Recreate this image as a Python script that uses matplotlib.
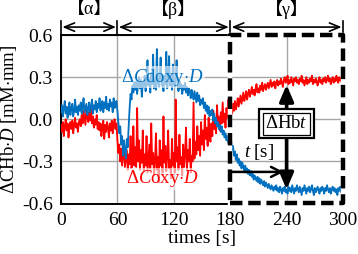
import matplotlib
matplotlib.use("Agg")
import matplotlib.pyplot as plt
import matplotlib.transforms as mtransforms
from matplotlib.patches import Rectangle

plt.rcParams['font.family'] = ['Liberation Serif', 'Noto Sans CJK JP', 'DejaVu Sans']
plt.rcParams['mathtext.fontset'] = 'custom'
plt.rcParams['mathtext.rm'] = 'Liberation Serif'
plt.rcParams['mathtext.it'] = 'Liberation Serif:italic'
plt.rcParams['axes.unicode_minus'] = False

# ---- data (1 s sampling, 0..300 s) ----
times = list(range(0, 301))

doxy = [
    0.05, 0.10, 0.02, 0.08, 0.13, 0.04, 0.09, 0.01, 0.07, 0.12,
    0.03, 0.08, 0.11, 0.02, 0.06, 0.14, 0.05, 0.09, 0.03, 0.10,
    0.06, 0.12, 0.04, 0.09, 0.15, 0.05, 0.08, 0.11, 0.03, 0.07,
    0.12, 0.05, 0.09, 0.14, 0.04, 0.10, 0.07, 0.13, 0.05, 0.11,
    0.08, 0.15, 0.06, 0.10, 0.13, 0.05, 0.12, 0.08, 0.16, 0.07,
    0.11, 0.06, 0.14, 0.09, 0.12, 0.05, 0.15, 0.08, 0.10, 0.13,
    0.06, -0.02, -0.10, -0.05, -0.18, -0.12, -0.26, -0.15, -0.22, -0.28,
    -0.14, -0.20, -0.05, 0.08, 0.18, 0.14, 0.24, 0.19, 0.26, 0.21,
    0.27, 0.18, 0.25, 0.30, 0.22, 0.28, 0.16, 0.26, 0.23, 0.31,
    0.20, 0.27, 0.42, 0.24, 0.29, 0.19, 0.33, 0.25, 0.46, 0.22,
    0.28, 0.21, 0.50, 0.26, 0.23, 0.30, 0.44, 0.24, 0.27, 0.20,
    0.31, 0.25, 0.48, 0.22, 0.28, 0.45, 0.24, 0.30, 0.21, 0.39,
    0.26, 0.23, 0.29, 0.42, 0.24, 0.20, 0.27, 0.22, 0.25, 0.18,
    0.24, 0.21, 0.26, 0.19, 0.23, 0.17, 0.22, 0.20, 0.15, 0.21,
    0.18, 0.14, 0.20, 0.16, 0.12, 0.19, 0.13, 0.17, 0.10, 0.14,
    0.11, 0.15, 0.08, 0.12, 0.06, 0.10, 0.04, 0.09, 0.02, 0.06,
    0.03, 0.07, -0.01, 0.04, -0.03, 0.01, -0.05, -0.02, -0.07, -0.04,
    -0.09, -0.05, -0.11, -0.08, -0.13, -0.10, -0.15, -0.12, -0.17, -0.14,
    -0.18, -0.15, -0.22, -0.19, -0.26, -0.23, -0.29, -0.25, -0.31, -0.28,
    -0.33, -0.30, -0.35, -0.31, -0.34, -0.37, -0.33, -0.38, -0.35, -0.39,
    -0.36, -0.40, -0.37, -0.41, -0.39, -0.43, -0.40, -0.42, -0.44, -0.41,
    -0.45, -0.42, -0.46, -0.43, -0.45, -0.47, -0.44, -0.48, -0.45, -0.47,
    -0.49, -0.46, -0.48, -0.50, -0.47, -0.49, -0.51, -0.48, -0.50, -0.47,
    -0.51, -0.49, -0.52, -0.48, -0.50, -0.53, -0.49, -0.51, -0.48, -0.52,
    -0.50, -0.53, -0.48, -0.51, -0.49, -0.52, -0.47, -0.50, -0.53, -0.49,
    -0.51, -0.47, -0.50, -0.52, -0.48, -0.51, -0.54, -0.49, -0.51, -0.47,
    -0.50, -0.53, -0.49, -0.51, -0.48, -0.52, -0.50, -0.47, -0.51, -0.54,
    -0.49, -0.52, -0.50, -0.48, -0.51, -0.53, -0.49, -0.51, -0.48, -0.50,
    -0.53, -0.49, -0.51, -0.47, -0.50, -0.52, -0.49, -0.53, -0.50, -0.48,
    -0.51, -0.49, -0.52, -0.50, -0.54, -0.49, -0.51, -0.48, -0.52, -0.50,
    -0.52,
]

oxy = [
    -0.04, -0.09, -0.02, -0.12, -0.05, 0.00, -0.08, -0.03, -0.13, -0.05,
    -0.02, -0.07, -0.01, -0.10, -0.04, 0.01, -0.06, -0.03, -0.09, -0.02,
    0.00, -0.05, 0.03, -0.03, 0.06, 0.01, -0.04, 0.08, 0.02, -0.02,
    0.05, -0.01, 0.07, -0.03, 0.02, -0.06, 0.00, -0.04, 0.03, -0.07,
    -0.02, -0.08, -0.03, -0.12, -0.05, -0.01, -0.14, -0.04, -0.09, -0.02,
    -0.06, -0.13, -0.03, -0.08, -0.01, -0.10, -0.04, 0.00, -0.07, -0.03,
    -0.15, -0.24, -0.18, -0.30, -0.21, -0.33, -0.26, -0.19, -0.34, -0.28,
    -0.22, -0.36, -0.25, -0.32, -0.12, -0.35, -0.28, -0.05, -0.33, -0.20,
    -0.34, 0.08, -0.30, -0.15, -0.36, -0.22, -0.31, -0.08, -0.37, -0.25,
    -0.33, -0.12, -0.38, -0.28, -0.18, -0.35, -0.03, -0.32, -0.24, -0.40,
    -0.30, -0.10, -0.36, -0.27, -0.45, -0.15, -0.33, -0.22, -0.38, 0.02,
    -0.31, -0.19, -0.37, -0.26, -0.08, -0.35, -0.29, -0.42, -0.14, -0.33,
    -0.24, -0.38, 0.14, -0.30, -0.20, -0.36, -0.11, -0.32, -0.27, -0.40,
    -0.18, -0.34, -0.25, -0.06, -0.36, -0.22, -0.30, -0.14, -0.38, -0.26,
    -0.30, 0.12, -0.28, -0.16, -0.25, -0.05, -0.22, -0.12, -0.26, -0.02,
    -0.18, -0.08, -0.22, 0.03, -0.14, -0.06, -0.19, 0.01, -0.10, -0.16,
    -0.03, -0.12, 0.06, -0.07, -0.01, -0.10, 0.10, -0.04, 0.02, -0.08,
    0.05, -0.03, 0.12, -0.02, 0.04, -0.06, 0.08, 0.01, 0.14, 0.03,
    0.02, 0.08, 0.04, 0.11, 0.06, 0.13, 0.07, 0.10, 0.15, 0.09,
    0.13, 0.17, 0.11, 0.15, 0.19, 0.13, 0.16, 0.20, 0.14, 0.18,
    0.21, 0.16, 0.19, 0.23, 0.18, 0.21, 0.17, 0.22, 0.25, 0.19,
    0.22, 0.19, 0.24, 0.21, 0.26, 0.20, 0.23, 0.25, 0.21, 0.24,
    0.26, 0.22, 0.25, 0.28, 0.23, 0.26, 0.24, 0.27, 0.22, 0.26,
    0.28, 0.24, 0.27, 0.25, 0.29, 0.26, 0.23, 0.28, 0.30, 0.26,
    0.27, 0.31, 0.25, 0.28, 0.26, 0.30, 0.27, 0.24, 0.29, 0.27,
    0.30, 0.26, 0.28, 0.25, 0.29, 0.27, 0.31, 0.26, 0.28, 0.24,
    0.27, 0.30, 0.25, 0.28, 0.26, 0.29, 0.27, 0.31, 0.25, 0.28,
    0.26, 0.29, 0.27, 0.24, 0.28, 0.30, 0.26, 0.28, 0.25, 0.29,
    0.27, 0.30, 0.26, 0.28, 0.31, 0.27, 0.29, 0.25, 0.28, 0.30,
    0.26, 0.29, 0.27, 0.31, 0.28, 0.26, 0.30, 0.28, 0.27, 0.31,
    0.29,
]

x_ticks = [0, 60, 120, 180, 240, 300]
y_ticks = [-0.6, -0.3, 0.0, 0.3, 0.6]
phase_bounds = [0, 60, 180, 300]
phase_labels = ['【α】', '【β】', '【γ】']

BLUE = '#0070C0'
RED = '#FF0000'
FS = 14

fig = plt.figure(figsize=(3.58, 2.54), dpi=100)
ax = fig.add_axes([61/358, 50.5/254, 282/358, 168.5/254])

ax.plot(times, oxy, color=RED, lw=1.3, zorder=3)
ax.plot(times, doxy, color=BLUE, lw=1.3, zorder=3.1)

ax.set_xlim(0, 300)
ax.set_ylim(-0.6, 0.6)
ax.set_xticks(x_ticks)
ax.set_yticks(y_ticks)
ax.set_xticklabels([str(v) for v in x_ticks])
ax.set_yticklabels(['%.1f' % v for v in y_ticks])
ax.tick_params(length=0, labelsize=FS, pad=6)
ax.grid(True, color='#a6a6a6', lw=1.0, zorder=0)
ax.set_axisbelow(True)
for s in ax.spines.values():
    s.set_linewidth(1.4)

ax.set_xlabel('times [s]', fontsize=FS, labelpad=1)
ax.set_ylabel(r'$\Delta\mathrm{CHb}{\cdot}\mathit{D}\ \mathrm{[mM{\cdot}mm]}$', fontsize=FS - 0.5, labelpad=2)

# curve labels
ax.text(108, 0.30, r'$\Delta\mathit{C}\mathrm{doxy}{\cdot}\mathit{D}$', color=BLUE, fontsize=FS - 0.5,
        ha='center', va='center', zorder=6,
        bbox=dict(facecolor='white', alpha=0.6, edgecolor='none', pad=0.5))
ax.text(108, -0.425, r'$\Delta\mathit{C}\mathrm{oxy}{\cdot}\mathit{D}$', color=RED, fontsize=FS - 0.5,
        ha='center', va='center', zorder=6,
        bbox=dict(facecolor='white', alpha=0.6, edgecolor='none', pad=0.5))

# dashed box region gamma
ax.add_patch(Rectangle((180, -0.595), 120, 1.195, fill=False, edgecolor='white', lw=3.2,
                       clip_on=False, zorder=7))
ax.add_patch(Rectangle((180, -0.595), 120, 1.195, fill=False, edgecolor='black', lw=3.2,
                       linestyle=(0, (2.8, 1.3)), joinstyle='round', clip_on=False, zorder=7.1))

# delta Hbt arrow
ax.annotate('', xy=(240, 0.245), xytext=(240, -0.50),
            arrowprops=dict(arrowstyle='<|-|>,head_length=0.7,head_width=0.3', lw=2.6,
                            color='black', shrinkA=0, shrinkB=0, mutation_scale=14),
            zorder=8)
ax.text(240, -0.033, r'$\Delta\mathrm{Hb}\mathit{t}$', fontsize=FS - 0.5, ha='center', va='center',
        color='none', zorder=9,
        bbox=dict(boxstyle='square,pad=0.32', facecolor='white', edgecolor='black', lw=1.6))
ax.text(240, -0.033, r'$\Delta\mathrm{Hb}\mathit{t}$', fontsize=FS - 0.5, ha='center', va='center',
        color='black', zorder=10,
        bbox=dict(boxstyle='square,pad=0.13', facecolor='white', edgecolor='black', lw=0.9))

# t arrow
ax.annotate('', xy=(237, -0.375), xytext=(180, -0.375),
            arrowprops=dict(arrowstyle='->,head_length=0.6,head_width=0.3', lw=1.8,
                            color='black', shrinkA=0, shrinkB=0, mutation_scale=12),
            zorder=8)
ax.text(211, -0.23, r'$\mathit{t}\ \mathrm{[s]}$', fontsize=FS - 0.5, ha='center', va='center', zorder=8)

# phase arrows above plot
trans = mtransforms.blended_transform_factory(ax.transData, ax.transAxes)
for i in range(3):
    a, b = phase_bounds[i], phase_bounds[i + 1]
    ax.annotate('', xy=(b, 1.047), xytext=(a, 1.047), xycoords=trans, textcoords=trans,
                arrowprops=dict(arrowstyle='<->,head_length=0.6,head_width=0.25', lw=1.2,
                                color='black', shrinkA=1, shrinkB=1, mutation_scale=12),
                annotation_clip=False)
    ax.text((a + b) / 2, 1.15, phase_labels[i], transform=trans, ha='center', va='center',
            fontsize=13)
for xb in phase_bounds:
    ax.plot([xb, xb], [1.0, 1.085], transform=trans, color='black', lw=1.2, clip_on=False)

fig.savefig('out.png', dpi=100)
